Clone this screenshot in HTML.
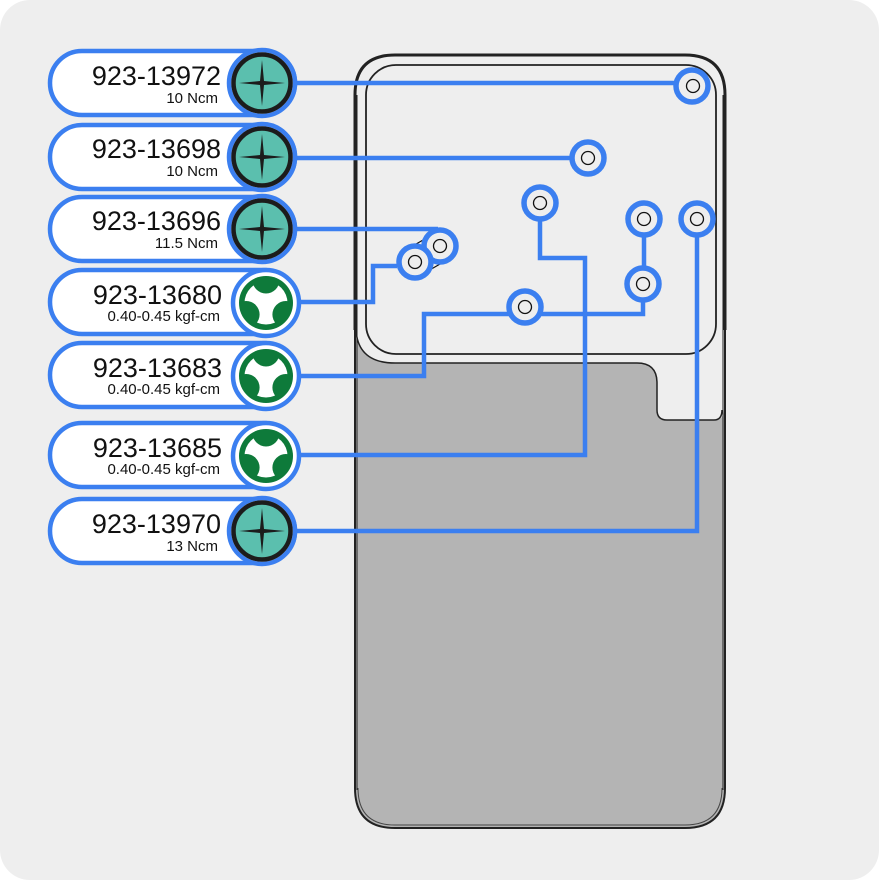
<!DOCTYPE html>
<html><head><meta charset="utf-8"><style>
html,body{margin:0;padding:0;background:#fff;}
svg{display:block;}
text{font-family:"Liberation Sans","DejaVu Sans",sans-serif;fill:#111;}
</style></head><body>
<svg width="879" height="880" viewBox="0 0 879 880" xmlns="http://www.w3.org/2000/svg">
<defs>
<clipPath id="inner"><circle r="26.5"/></clipPath>
<g id="cross">
  <circle r="33" fill="#fff" stroke="#3b7ff0" stroke-width="4.5"/>
  <circle r="28.5" fill="#5bbfae" stroke="#1c1c1c" stroke-width="4.5"/>
  <path d="M0,-23 L2,-2 L23,0 L2,2 L0,23 L-2,2 L-23,0 L-2,-2 Z" fill="#1c1c1c"/>
</g>
<g id="tri">
  <circle r="33" fill="#fff" stroke="#3b7ff0" stroke-width="4.5"/>
  <circle r="27" fill="#0e7a3a"/>
  <g clip-path="url(#inner)">
    <circle r="21.5" fill="#fff"/>
    <circle cx="0" cy="-23" r="13.5" fill="#0e7a3a"/>
    <circle cx="19.9" cy="11.5" r="13.5" fill="#0e7a3a"/>
    <circle cx="-19.9" cy="11.5" r="13.5" fill="#0e7a3a"/>
  </g>
</g>
</defs>
<rect x="0" y="0" width="879" height="880" rx="30" fill="#eeeeee"/>

<path d="M355,95 Q355,55 395,55 L685,55 Q725,55 725,95 L725,788 Q725,828 685,828 L395,828 Q355,828 355,788 Z" fill="#b4b4b4" stroke="#222" stroke-width="2"/>
<path d="M358,788 Q358,825 395,825 L685,825 Q722,825 722,788" fill="none" stroke="#444" stroke-width="1"/>
<path d="M356,95 Q356,56 395,56 L685,56 Q724,56 724,95 L724,410 Q724,420 714,420 L667,420 Q657,420 657,410 L657,383 Q657,363 637,363 L395,363 Q356,363 356,330 Z" fill="#eeeeee"/>
<path d="M356,330 Q358,363 395,363 L637,363 Q657,363 657,383 L657,410 Q657,420 667,420 L714,420 Q722,420 722,410" fill="none" stroke="#222" stroke-width="1.5"/>
<path d="M355,330 L355,95 Q355,55 395,55 L685,55 Q725,55 725,95 L725,330" fill="none" stroke="#222" stroke-width="3"/>
<line x1="357" y1="95" x2="357" y2="790" stroke="#222" stroke-width="1"/>
<line x1="723" y1="95" x2="723" y2="790" stroke="#222" stroke-width="1"/>
<rect x="366" y="65" width="350" height="289" rx="30" fill="none" stroke="#222" stroke-width="1.8"/>

<g fill="none" stroke="#3b7ff0" stroke-width="4.5">
  <path d="M295,83 L676,83"/>
  <path d="M295,158 L572,158"/>
  <path d="M295,229 L438,229"/>
  <path d="M295,302 L373,302 L373,266 L397,266"/>
  <path d="M295,376 L424,376 L424,314 L509,314 M541,314 L643,314 L643,300"/>
  <path d="M644,235 L644,268"/>
  <path d="M295,455 L585,455 L585,258 L540,258 L540,219"/>
  <path d="M295,531 L697,531 L697,235"/>
</g>
<path d="M404,251 L430,236 M421,275 L447,260" stroke="#111" stroke-width="1.2"/>
<g stroke="#3b7ff0" stroke-width="5.5" fill="#eeeeee">
  <circle cx="692" cy="86" r="16"/>
  <circle cx="588" cy="158" r="16"/>
  <circle cx="540" cy="203" r="16"/>
  <circle cx="644" cy="219" r="16"/>
  <circle cx="697" cy="219" r="16"/>
  <circle cx="440" cy="246" r="16"/>
  <circle cx="415" cy="262" r="16"/>
  <circle cx="643" cy="284" r="16"/>
  <circle cx="525" cy="307" r="16"/>
</g>
<g stroke="#111" stroke-width="1.3" fill="none">
  <circle cx="693" cy="86" r="6.5"/>
  <circle cx="588" cy="158" r="6.5"/>
  <circle cx="540" cy="203" r="6.5"/>
  <circle cx="644" cy="219" r="6.5"/>
  <circle cx="697" cy="219" r="6.5"/>
  <circle cx="440" cy="246" r="6.5"/>
  <circle cx="415" cy="262" r="6.5"/>
  <circle cx="643" cy="284" r="6.5"/>
  <circle cx="525" cy="307" r="6.5"/>
</g>

<g fill="#fff" stroke="#3b7ff0" stroke-width="4.5">
  <rect x="50" y="51" width="245" height="64" rx="32"/>
  <rect x="50" y="125" width="245" height="64" rx="32"/>
  <rect x="50" y="197" width="245" height="64" rx="32"/>
  <rect x="50" y="270" width="245" height="64" rx="32"/>
  <rect x="50" y="343" width="245" height="64" rx="32"/>
  <rect x="50" y="423" width="245" height="64" rx="32"/>
  <rect x="50" y="499" width="245" height="64" rx="32"/>
</g>
<use href="#cross" x="262" y="83"/>
<use href="#cross" x="262" y="157"/>
<use href="#cross" x="262" y="229"/>
<use href="#tri" x="266" y="303"/>
<use href="#tri" x="266" y="376"/>
<use href="#tri" x="266" y="456"/>
<use href="#cross" x="262" y="531"/>

<g text-anchor="end">
  <text x="221" y="85" font-size="27">923-13972</text>
  <text x="218" y="103" font-size="15">10 Ncm</text>
  <text x="221" y="158" font-size="27">923-13698</text>
  <text x="218" y="176" font-size="15">10 Ncm</text>
  <text x="221" y="230" font-size="27">923-13696</text>
  <text x="218" y="248" font-size="15">11.5 Ncm</text>
  <text x="222" y="304" font-size="27">923-13680</text>
  <text x="220" y="321" font-size="15">0.40-0.45 kgf-cm</text>
  <text x="222" y="377" font-size="27">923-13683</text>
  <text x="220" y="394" font-size="15">0.40-0.45 kgf-cm</text>
  <text x="222" y="457" font-size="27">923-13685</text>
  <text x="220" y="474" font-size="15">0.40-0.45 kgf-cm</text>
  <text x="221" y="533" font-size="27">923-13970</text>
  <text x="218" y="551" font-size="15">13 Ncm</text>
</g>
</svg>
</body></html>
